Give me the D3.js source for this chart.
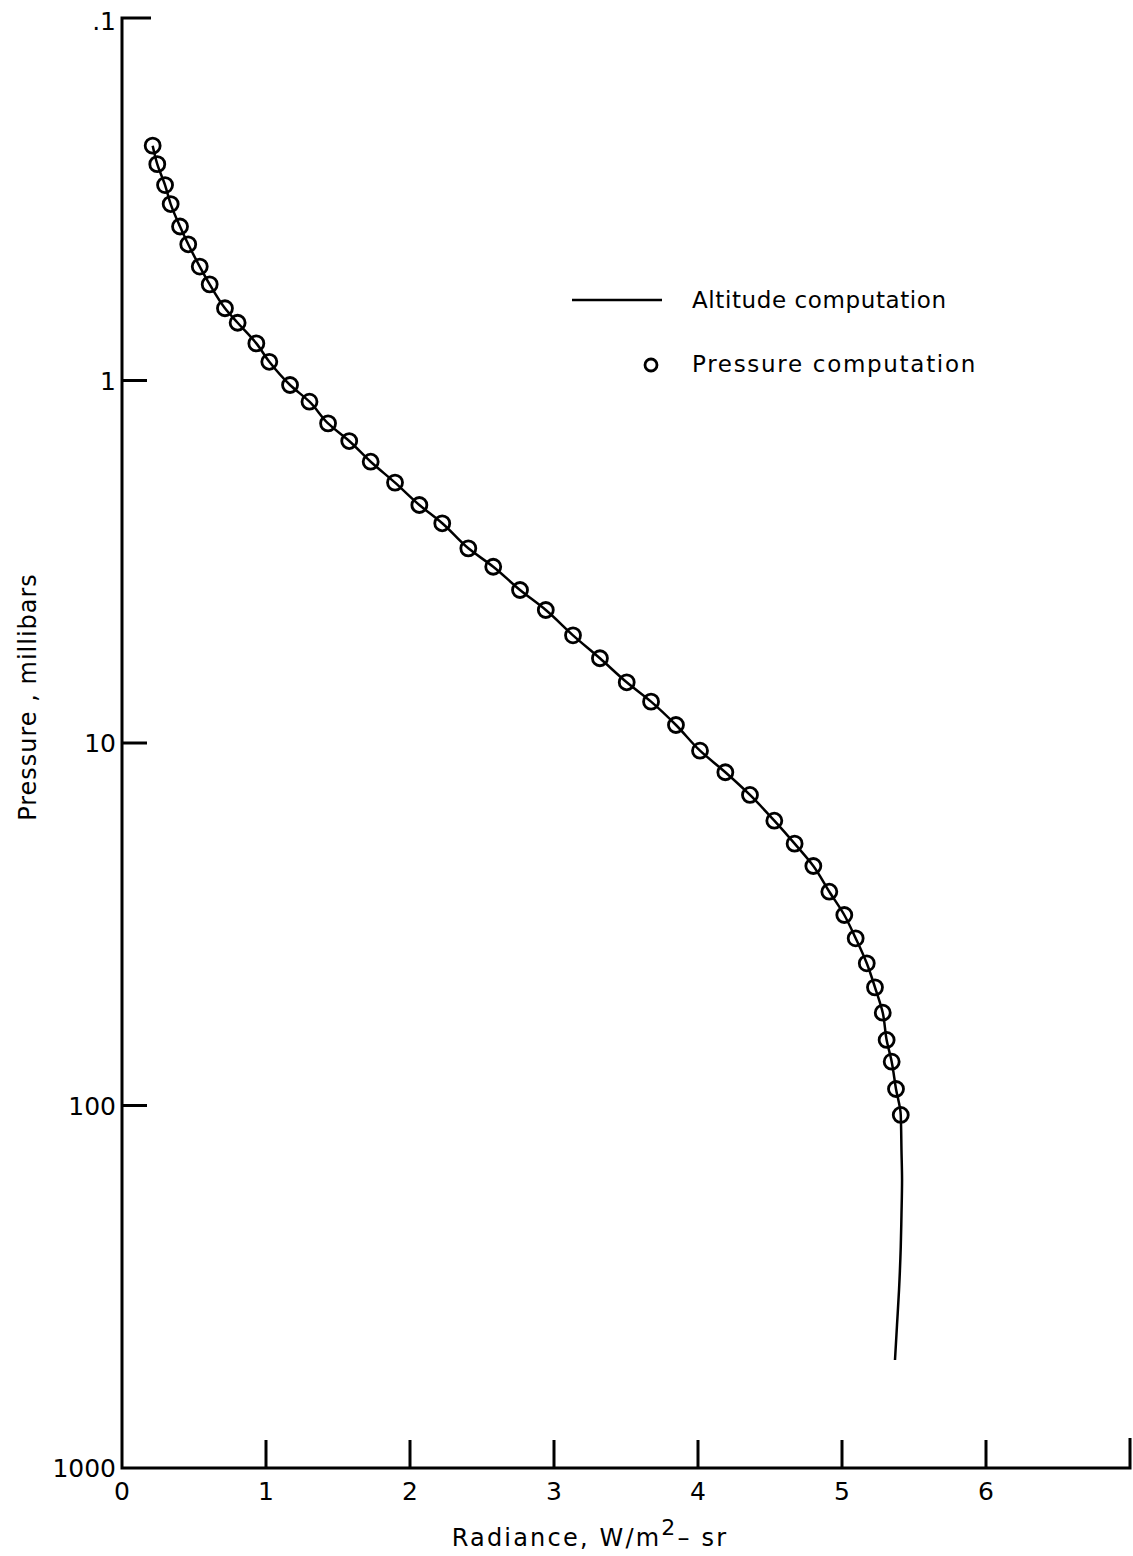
<!DOCTYPE html>
<html><head><meta charset="utf-8">
<script src="https://cdn.jsdelivr.net/npm/d3@7"></script>
<style>body{margin:0;background:#fff}svg{display:block}</style>
</head><body>
<script>
// Pressure computation (circles): radiance W/m2-sr, pressure mb
const circleRadiance = [0.213,0.245,0.299,0.338,0.403,0.460,0.540,0.609,0.715,0.803,0.933,1.023,1.167,1.302,1.431,1.578,1.727,1.896,2.065,2.224,2.405,2.578,2.764,2.943,3.132,3.319,3.505,3.674,3.847,4.014,4.190,4.361,4.530,4.671,4.801,4.912,5.016,5.095,5.172,5.229,5.283,5.310,5.345,5.375,5.408];
const circlePressure = [0.225,0.253,0.289,0.326,0.376,0.421,0.485,0.543,0.632,0.693,0.790,0.888,1.029,1.144,1.313,1.469,1.675,1.913,2.205,2.477,2.904,3.264,3.784,4.297,5.046,5.838,6.80,7.69,8.92,10.50,12.04,13.91,16.38,18.95,21.84,25.72,29.82,34.58,40.53,47.21,55.46,65.95,75.70,90.04,106.2];
// Altitude computation (line) continues beyond last circle
const lineTailRadiance = [5.413,5.417,5.413,5.408,5.396,5.382,5.368];
const lineTailPressure = [132.7,160.5,200.4,245.7,322.8,403.3,503.5];
const xTicks = [0,1,2,3,4,5,6];
const yTicks = [0.1,1,10,100,1000];
const yTickLabels = [".1","1","10","100","1000"];

const W=1133,H=1556;
const svg=d3.select("body").append("svg").attr("width",W).attr("height",H);
const font="'DejaVu Sans', 'Liberation Sans', sans-serif";

const x=d3.scaleLinear().domain([0,7]).range([122,1130]);
const y=d3.scaleLog().domain([0.1,1000]).range([18,1468]);

// axes
const ax=svg.append("g").attr("stroke","#000").attr("stroke-width",3).attr("fill","none");
ax.append("path").attr("d",`M${x(0)+29},${y(0.1)}H${x(0)}V${y(1000)}H${x(7)}V${y(1000)-30}`);
yTicks.slice(1,4).forEach(v=>{
  ax.append("line").attr("x1",x(0)).attr("x2",x(0)+25).attr("y1",y(v)).attr("y2",y(v));
});
xTicks.slice(1).forEach(v=>{
  ax.append("line").attr("x1",x(v)).attr("x2",x(v)).attr("y1",y(1000)).attr("y2",y(1000)-28);
});

// tick labels
const tl=svg.append("g").attr("font-family",font).attr("font-size",25).attr("fill","#000");
yTicks.forEach((v,i)=>{
  tl.append("text").attr("x",x(0)-6).attr("y",y(v)+(i===0?12:9)).attr("text-anchor","end").text(yTickLabels[i]);
});
xTicks.forEach(v=>{
  tl.append("text").attr("x",x(v)).attr("y",y(1000)+32).attr("text-anchor","middle").text(v);
});

// axis titles
const xt=svg.append("text").attr("x",590).attr("y",1546).attr("text-anchor","middle")
  .attr("font-family",font).attr("font-size",24).attr("letter-spacing",2.2).attr("fill","#000");
xt.append("tspan").text("Radiance, W/m");
xt.append("tspan").attr("dy",-11).attr("font-size",22).text("2");
xt.append("tspan").attr("dy",11).text("\u2013 sr");
svg.append("text").attr("transform","translate(36,697) rotate(-90)").attr("text-anchor","middle")
  .attr("font-family",font).attr("font-size",24).attr("letter-spacing",1).attr("fill","#000").text("Pressure , millibars");

// data
const circleData=circleRadiance.map((r,i)=>({r,p:circlePressure[i]}));
const lineData=circleData.concat(lineTailRadiance.map((r,i)=>({r,p:lineTailPressure[i]})));

svg.append("g").selectAll("circle").data(circleData).join("circle")
  .attr("cx",d=>x(d.r)).attr("cy",d=>y(d.p)).attr("r",7.5)
  .attr("fill","none").attr("stroke","#000").attr("stroke-width",2.8);

const line=d3.line().x(d=>x(d.r)).y(d=>y(d.p)).curve(d3.curveMonotoneY);
svg.append("path").datum(lineData).attr("d",line)
  .attr("fill","none").attr("stroke","#000").attr("stroke-width",2.5);

// legend
svg.append("line").attr("x1",572).attr("x2",662).attr("y1",300).attr("y2",300)
  .attr("stroke","#000").attr("stroke-width",2.5);
svg.append("text").attr("x",692).attr("y",308).attr("font-family",font).attr("font-size",23)
  .attr("letter-spacing",0.6).attr("fill","#000").text("Altitude computation");
svg.append("circle").attr("cx",651).attr("cy",365).attr("r",6).attr("fill","none")
  .attr("stroke","#000").attr("stroke-width",2.8);
svg.append("text").attr("x",692).attr("y",372).attr("font-family",font).attr("font-size",23)
  .attr("letter-spacing",1.7).attr("fill","#000").text("Pressure computation");
</script>
</body></html>
